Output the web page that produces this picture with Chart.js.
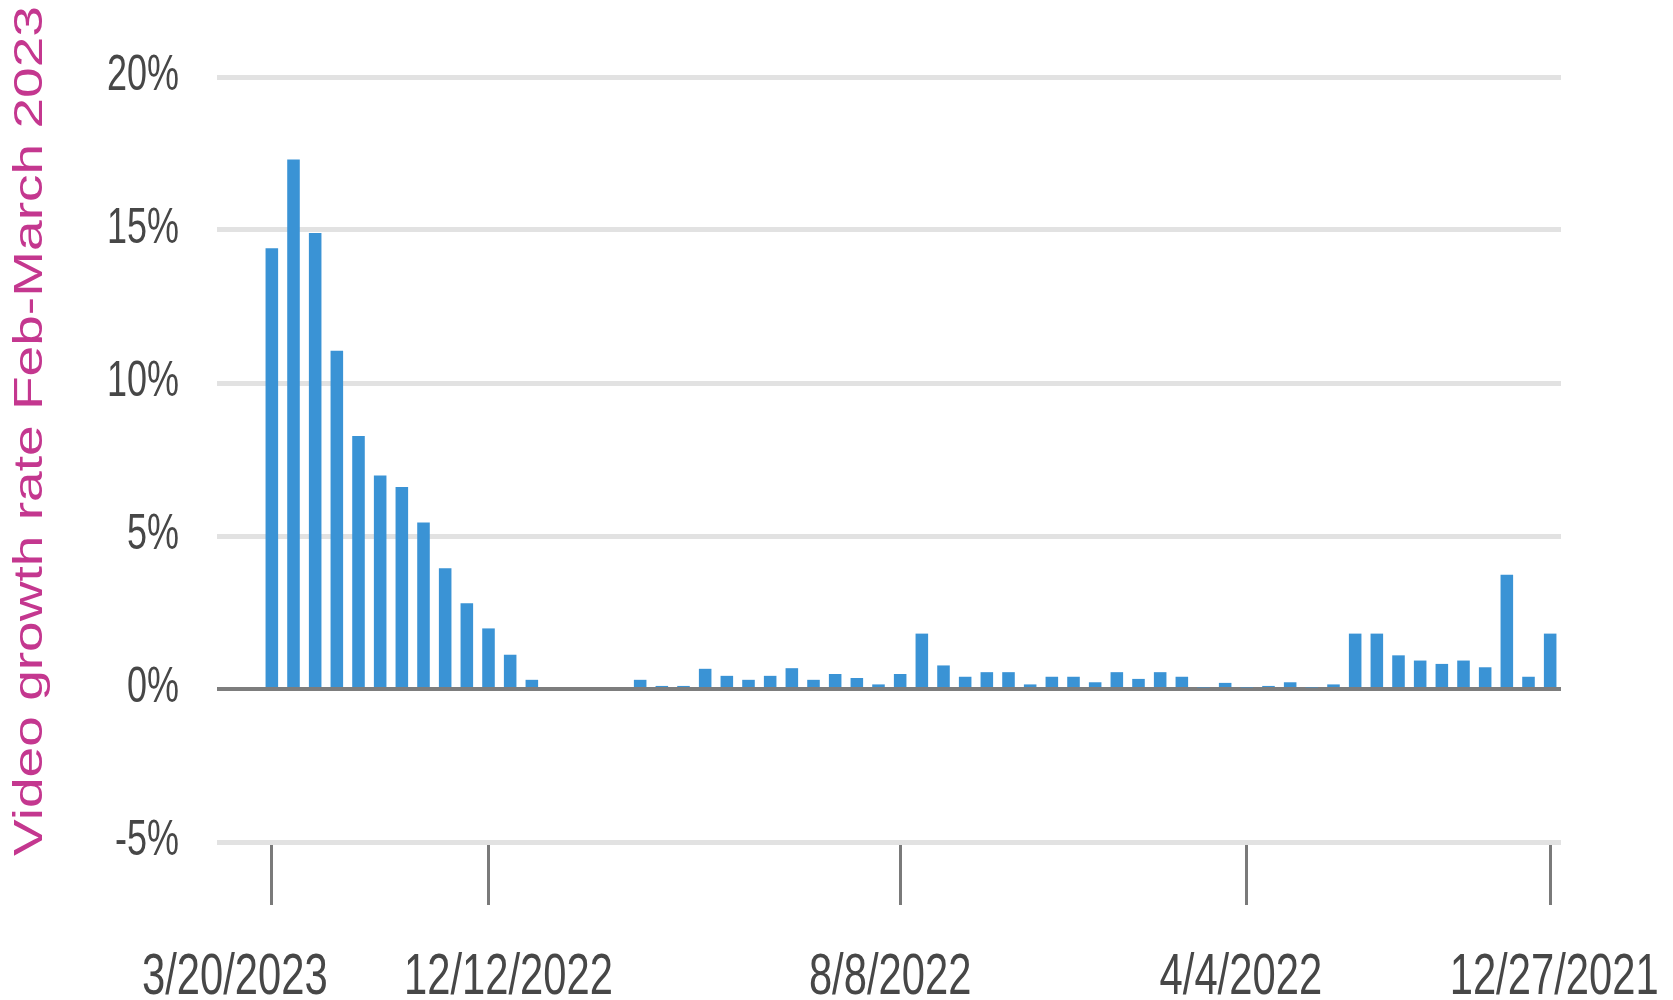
<!DOCTYPE html>
<html>
<head>
<meta charset="utf-8">
<script src="https://cdn.jsdelivr.net/npm/chart.js@4"></script>
<style>
  body { margin: 0; background: #fff; }
  #growth { display: block; }
</style>
</head>
<body>
<canvas id="growth" width="1673" height="1000"></canvas>
<script>
// weekly growth values, newest first (3/20/2023 ... 12/27/2021)
const growth = [
  14.4, 17.3, 14.9, 11.05, 8.27, 6.98, 6.6, 5.44, 3.95, 2.8,
  1.98, 1.12, 0.3, 0, 0, 0, 0, 0.3, 0.1, 0.1,
  0.66, 0.43, 0.3, 0.43, 0.68, 0.3, 0.49, 0.36, 0.15, 0.49,
  1.81, 0.77, 0.4, 0.55, 0.55, 0.15, 0.4, 0.4, 0.22, 0.55,
  0.33, 0.55, 0.4, 0.05, 0.2, 0.05, 0.1, 0.22, 0.05, 0.15,
  1.81, 1.81, 1.1, 0.93, 0.82, 0.93, 0.71, 3.73, 0.4, 1.81
];
const tickAt = [0, 10, 29, 45, 59];
const tickLabels = ['3/20/2023', '12/12/2022', '8/8/2022', '4/4/2022', '12/27/2021'];
const labelShift = [-37, 20, -10, -6, 4];
const yTitle = 'Video growth rate Feb-March 2023';

const labels = growth.map(function(v, i) {
  let k = tickAt.indexOf(i);
  return k >= 0 ? tickLabels[k] : '';
});

// the source text is tall and narrow, so labels get drawn squeezed
function squishText(ctx, text, x, y, size, sx, align) {
  ctx.save();
  ctx.translate(x, y);
  ctx.scale(sx, 1);
  ctx.font = size + 'px "Liberation Sans", Arial, sans-serif';
  ctx.textAlign = align;
  ctx.textBaseline = 'alphabetic';
  ctx.fillText(text, 0, 0);
  ctx.restore();
}

const textPlugin = {
  id: 'texts',
  afterDraw: function(chart) {
    let ctx = chart.ctx;
    let xs = chart.scales.x, ys = chart.scales.y;

    ctx.fillStyle = '#474747';
    ys.ticks.forEach(function(t) {
      squishText(ctx, t.value + '%', 179, ys.getPixelForValue(t.value) + 13, 50, 0.72, 'right');
    });
    tickAt.forEach(function(idx, k) {
      squishText(ctx, tickLabels[k], xs.getPixelForValue(idx) + labelShift[k], 994, 58, 0.72, 'center');
    });

    // rotated axis title
    ctx.save();
    ctx.translate(31, 431);
    ctx.rotate(-Math.PI / 2);
    ctx.font = '40px "Liberation Sans", Arial, sans-serif';
    let w = ctx.measureText(yTitle).width;
    ctx.scale(850 / w, 1);
    ctx.textAlign = 'center';
    ctx.textBaseline = 'middle';
    ctx.fillStyle = '#c4378f';
    ctx.fillText(yTitle, 0, 0);
    ctx.restore();
  }
};

let growthChart = new Chart(document.getElementById('growth').getContext('2d'), {
  type: 'bar',
  data: {
    labels: labels,
    datasets: [{
      label: 'Growth',
      data: growth,
      backgroundColor: '#3a93d5',
      borderWidth: 0,
      categoryPercentage: 1,
      barPercentage: 0.58
    }]
  },
  options: {
    responsive: false,
    animation: false,
    layout: { padding: { top: 77, right: 112, bottom: 0, left: 0 } },
    plugins: {
      legend: { display: false },
      tooltip: { enabled: false }
    },
    scales: {
      x: {
        offset: true,
        border: { display: false },
        grid: {
          offset: false,
          drawOnChartArea: false,
          drawTicks: true,
          tickLength: 63,
          tickWidth: 3,
          tickColor: function(c) {
            return tickAt.indexOf(c.index) >= 0 ? '#7a7a7a' : 'rgba(0,0,0,0)';
          }
        },
        ticks: { display: false, autoSkip: false },
        afterFit: function(scale) { scale.height = 158; }
      },
      y: {
        min: -5,
        max: 20,
        border: { display: false },
        grid: {
          color: function(c) { return c.tick && c.tick.value === 0 ? '#7d7d7d' : '#e2e2e2'; },
          lineWidth: function(c) { return c.tick && c.tick.value === 0 ? 4 : 5; },
          tickLength: 44
        },
        ticks: { display: false, stepSize: 5 },
        afterFit: function(scale) { scale.width = 261; }
      }
    }
  },
  plugins: [textPlugin]
});
</script>
</body>
</html>
